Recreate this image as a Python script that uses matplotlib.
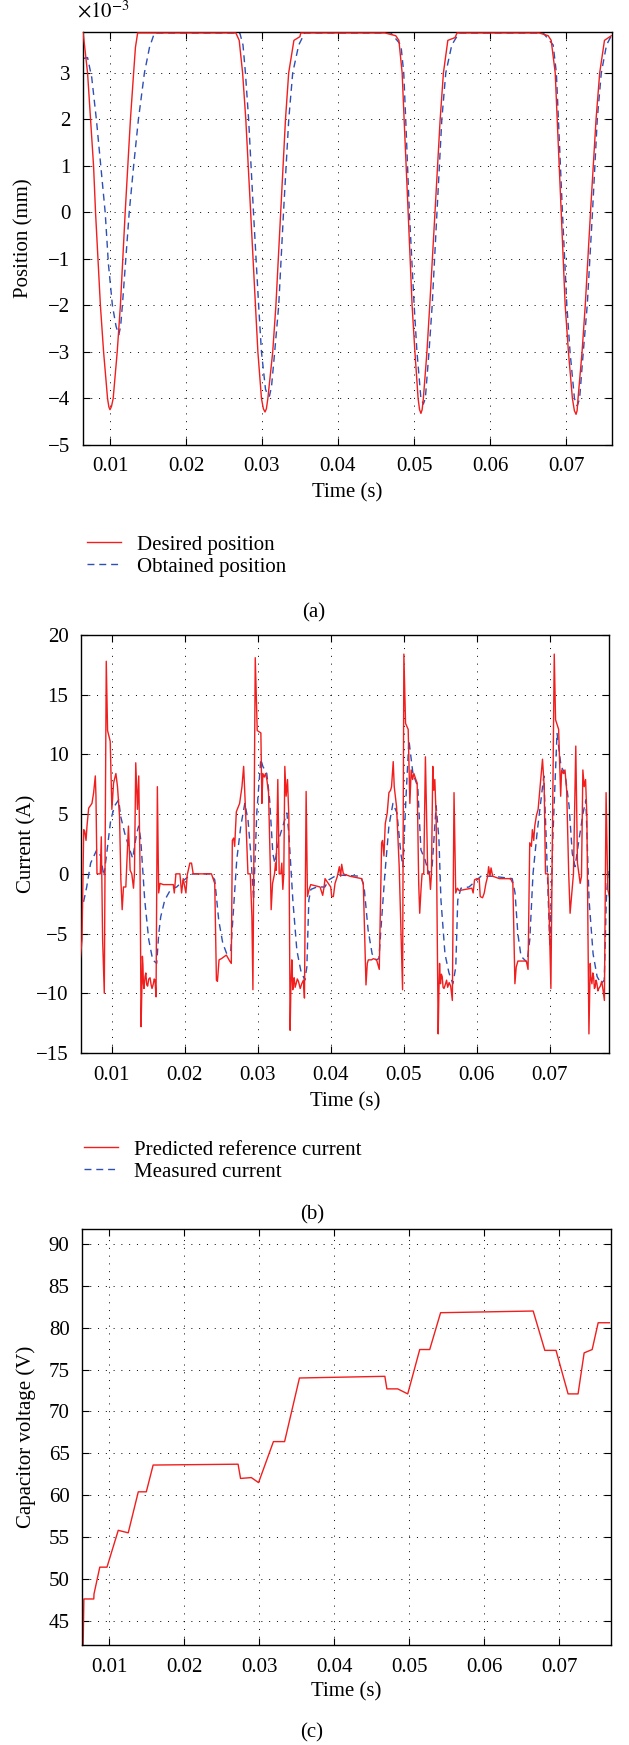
import matplotlib
matplotlib.use("Agg")
import matplotlib.pyplot as plt

plt.rcParams['font.family'] = ['Liberation Serif', 'DejaVu Serif']
plt.rcParams['mathtext.fontset'] = 'stix'

# ---------------- data ----------------
# (a) position, in units of 1e-3 mm
des_t = [0.00647, 0.00705, 0.00784, 0.00810, 0.00874, 0.00916, 0.00968, 0.00985, 0.01000, 0.01020,
         0.01042, 0.01095, 0.01137, 0.01200, 0.01269, 0.01311, 0.01335, 0.01364, 0.02656, 0.02700,
         0.02745, 0.02787, 0.02851, 0.02914, 0.02946, 0.02993, 0.03018, 0.03040, 0.03058, 0.03077,
         0.03141, 0.03183, 0.03246, 0.03309, 0.03351, 0.03420, 0.03499, 0.03510, 0.04617, 0.04760,
         0.04801, 0.04844, 0.04870, 0.04923, 0.04975, 0.05012, 0.05054, 0.05073, 0.05091, 0.05107,
         0.05123, 0.05170, 0.05207, 0.05276, 0.05344, 0.05387, 0.05445, 0.05540, 0.05566, 0.06647,
         0.06765, 0.06805, 0.06858, 0.06884, 0.06937, 0.06989, 0.07032, 0.07084, 0.07110, 0.07132,
         0.07146, 0.07158, 0.07211, 0.07253, 0.07322, 0.07395, 0.07443, 0.07506, 0.07596]
des_y = [3.86, 3.0, 1.0, 0.0, -2.0, -3.0, -4.0, -4.18, -4.24, -4.17,
         -4.0, -3.0, -2.0, 0.0, 2.0, 3.0, 3.55, 3.86, 3.86, 3.7,
         3.0, 2.0, 0.0, -2.0, -3.0, -4.0, -4.22, -4.29, -4.22, -4.0,
         -3.0, -2.0, 0.0, 2.0, 3.0, 3.7, 3.78, 3.86, 3.86, 3.8,
         3.7, 3.0, 2.0, 0.0, -2.0, -3.0, -4.0, -4.24, -4.32, -4.24,
         -4.0, -3.0, -2.0, 0.0, 2.0, 3.0, 3.7, 3.76, 3.86, 3.86,
         3.8, 3.7, 3.0, 2.0, 0.0, -2.0, -3.0, -4.0, -4.26, -4.34,
         -4.26, -4.0, -3.0, -2.0, 0.0, 2.0, 3.0, 3.7, 3.8]

obt_t = [0.00647, 0.00705, 0.00760, 0.00821, 0.00937, 0.00979, 0.01032, 0.01080, 0.01116, 0.01140,
         0.01163, 0.01253, 0.01311, 0.01374, 0.01453, 0.01520, 0.01585, 0.02708, 0.02750, 0.02782,
         0.02824, 0.02888, 0.02956, 0.02993, 0.03046, 0.03075, 0.03098, 0.03125, 0.03167, 0.03220,
         0.03283, 0.03352, 0.03404, 0.03483, 0.03562, 0.04696, 0.04828, 0.04865, 0.04891, 0.04939,
         0.05002, 0.05039, 0.05091, 0.05123, 0.05149, 0.05197, 0.05239, 0.05302, 0.05366, 0.05418,
         0.05497, 0.05592, 0.06699, 0.06831, 0.06873, 0.06900, 0.06953, 0.07011, 0.07053, 0.07111,
         0.07148, 0.07179, 0.07227, 0.07279, 0.07348, 0.07411, 0.07464, 0.07533, 0.07596]
obt_y = [3.31, 3.33, 2.9, 2.0, 0.0, -1.1, -2.0, -2.45, -2.63, -2.45,
         -2.0, 0.0, 1.0, 2.0, 3.0, 3.55, 3.86, 3.86, 3.6, 3.0,
         2.0, 0.0, -2.0, -3.0, -3.8, -3.93, -3.95, -3.75, -3.0, -2.0,
         0.0, 2.0, 3.0, 3.6, 3.86, 3.86, 3.6, 3.0, 2.0, 0.0,
         -2.0, -3.0, -4.0, -4.12, -4.0, -3.0, -2.0, 0.0, 2.0, 3.0,
         3.6, 3.86, 3.86, 3.6, 3.0, 2.0, 0.0, -2.0, -3.0, -4.0,
         -4.16, -4.0, -3.0, -2.0, 0.0, 2.0, 3.0, 3.6, 3.8]

# (b) current (A)
ref_t = [0.00568, 0.00591, 0.00614, 0.00627, 0.00646, 0.00659, 0.00682, 0.00727, 0.00750, 0.00773,
         0.00782, 0.00796, 0.00841, 0.00855, 0.00873, 0.00896, 0.00923, 0.00941, 0.00977, 0.01000,
         0.01023, 0.01055, 0.01077, 0.01105, 0.01123, 0.01141, 0.01159, 0.01191, 0.01227, 0.01250,
         0.01273, 0.01296, 0.01309, 0.01327, 0.01350, 0.01368, 0.01386, 0.01400, 0.01410, 0.01418,
         0.01425, 0.01432, 0.01440, 0.01455, 0.01465, 0.01478, 0.01490, 0.01505, 0.01523, 0.01538,
         0.01550, 0.01568, 0.01580, 0.01591, 0.01605, 0.01623, 0.01641, 0.01659, 0.01705, 0.01841,
         0.01855, 0.01877, 0.01932, 0.01955, 0.01977, 0.02014, 0.02032, 0.02068, 0.02091, 0.02114,
         0.02159, 0.02364, 0.02386, 0.02409, 0.02432, 0.02446, 0.02468, 0.02500, 0.02568, 0.02614,
         0.02636, 0.02650, 0.02668, 0.02682, 0.02705, 0.02750, 0.02782, 0.02805, 0.02827, 0.02864,
         0.02896, 0.02918, 0.02932, 0.02964, 0.02991, 0.03041, 0.03055, 0.03068, 0.03087, 0.03105,
         0.03123, 0.03146, 0.03169, 0.03182, 0.03201, 0.03228, 0.03242, 0.03251, 0.03260, 0.03273,
         0.03292, 0.03314, 0.03328, 0.03342, 0.03355, 0.03369, 0.03387, 0.03406, 0.03424, 0.03442,
         0.03452, 0.03465, 0.03472, 0.03478, 0.03488, 0.03497, 0.03510, 0.03524, 0.03540, 0.03556,
         0.03580, 0.03601, 0.03624, 0.03638, 0.03661, 0.03679, 0.03702, 0.03724, 0.03852, 0.03888,
         0.03907, 0.03920, 0.03998, 0.04011, 0.04034, 0.04057, 0.04089, 0.04116, 0.04134, 0.04148,
         0.04171, 0.04262, 0.04421, 0.04444, 0.04481, 0.04499, 0.04513, 0.04558, 0.04581, 0.04626,
         0.04663, 0.04695, 0.04708, 0.04727, 0.04745, 0.04772, 0.04795, 0.04818, 0.04831, 0.04854,
         0.04868, 0.04900, 0.04936, 0.04968, 0.04982, 0.05000, 0.05023, 0.05059, 0.05082, 0.05100,
         0.05119, 0.05137, 0.05164, 0.05182, 0.05203, 0.05217, 0.05235, 0.05249, 0.05272, 0.05295,
         0.05309, 0.05327, 0.05350, 0.05364, 0.05378, 0.05396, 0.05410, 0.05424, 0.05442, 0.05470,
         0.05480, 0.05489, 0.05495, 0.05502, 0.05513, 0.05525, 0.05537, 0.05550, 0.05571, 0.05585,
         0.05600, 0.05620, 0.05641, 0.05664, 0.05687, 0.05710, 0.05733, 0.05756, 0.05931, 0.05949,
         0.05968, 0.06000, 0.06032, 0.06046, 0.06078, 0.06101, 0.06124, 0.06148, 0.06161, 0.06180,
         0.06194, 0.06217, 0.06309, 0.06447, 0.06470, 0.06493, 0.06521, 0.06539, 0.06562, 0.06631,
         0.06677, 0.06701, 0.06724, 0.06747, 0.06760, 0.06779, 0.06793, 0.06816, 0.06839, 0.06871,
         0.06899, 0.06922, 0.06940, 0.06972, 0.06991, 0.07014, 0.07060, 0.07078, 0.07120, 0.07148,
         0.07161, 0.07184, 0.07207, 0.07230, 0.07258, 0.07277, 0.07300, 0.07323, 0.07355, 0.07378,
         0.07401, 0.07415, 0.07433, 0.07452, 0.07470, 0.07489, 0.07507, 0.07535, 0.07545, 0.07553,
         0.07560, 0.07576, 0.07588, 0.07599, 0.07610, 0.07620, 0.07633, 0.07645, 0.07658, 0.07670,
         0.07691, 0.07710, 0.07728, 0.07747, 0.07770, 0.07793, 0.07816]
ref_y = [-7.1, -5.5, 3.7, 3.6, 2.8, 4.0, 5.5, 5.9, 6.8, 8.2,
         6.5, 0.0, 0.0, 3.1, -5.5, -10.0, 17.8, 12.0, 11.1, 5.4,
         7.6, 8.4, 7.3, 4.8, -0.5, -3.0, -1.1, -1.1, 4.0, 0.3,
         0.0, -1.2, 0.0, 9.3, 5.4, 8.2, 0.3, -12.8, -9.8, -6.9,
         -7.6, -9.2, -9.6, -8.6, -8.3, -9.3, -9.4, -8.8, -8.7, -9.3,
         -9.6, -9.2, -8.8, -8.9, -10.3, 7.3, -1.6, -0.8, -0.9, -0.9,
         -1.6, 0.0, 0.0, -1.6, -0.4, -1.6, -0.1, 0.9, 0.9, 0.0,
         0.0, 0.0, -0.4, -0.8, -8.9, -9.0, -7.2, -7.1, -6.8, -7.3,
         -7.5, 2.8, 3.0, 2.3, 5.2, 5.9, 7.3, 9.0, 5.9, 0.0,
         0.0, -3.6, -9.7, 18.1, 12.0, 11.8, 5.9, 8.4, 8.1, 8.4,
         7.9, 6.8, 0.9, -3.0, -0.8, 0.0, 0.9, 0.3, 3.4, 7.9,
         0.0, 0.0, 0.9, -1.3, 0.0, 9.0, 6.5, 7.9, 4.8, -13.1,
         -9.5, -7.2, -8.4, -9.7, -9.0, -8.7, -9.5, -9.2, -8.8, -9.0,
         -9.6, -9.2, -8.9, -10.4, 6.9, -1.9, -1.3, -0.9, -1.1, -1.8,
         -1.1, -0.4, -1.1, -1.9, -1.9, -0.8, -0.2, 0.6, -0.2, 0.8,
         0.0, -0.2, -0.4, -0.8, -9.3, -7.5, -7.2, -7.2, -7.1, -7.2,
         -8.0, 2.6, 2.8, 1.5, 4.2, 5.1, 6.8, 7.0, 7.3, 9.4,
         7.3, 5.6, 0.6, -6.4, -9.7, 18.4, 12.6, 12.1, 5.9, 8.7,
         7.9, 8.4, 7.9, 7.6, -0.8, -3.3, -1.3, 0.0, 0.0, 9.8,
         5.4, 0.0, 0.0, -1.3, 0.0, 9.0, 7.0, 7.9, 4.8, -13.4,
         -9.8, -7.5, -8.6, -9.2, -8.4, -8.6, -9.5, -9.6, -9.2, -8.9,
         -9.5, -9.1, -9.4, -10.6, 6.8, -1.6, -1.2, -1.4, -1.2, -1.6,
         -0.5, -0.4, -0.4, -1.9, -2.0, -1.6, -0.8, -0.2, 0.6, -0.2,
         0.5, -0.2, -0.4, -0.4, -0.5, -0.8, -9.2, -7.8, -7.3, -7.3,
         -7.3, -8.0, 2.6, 2.3, 3.7, 2.8, 4.0, 4.9, 5.4, 7.6,
         9.6, 7.3, 0.0, 0.0, -3.6, -9.6, 18.4, 12.9, 12.1, 6.5,
         8.7, 8.4, 8.7, 7.0, 0.0, -3.3, -1.6, 0.0, 10.7, 0.9,
         -0.2, -0.8, -0.2, 8.7, 7.3, 7.9, 4.8, -13.4, -10.0, -7.5,
         -8.6, -9.2, -8.3, -8.6, -9.6, -9.5, -8.9, -9.2, -9.8, -9.6,
         -9.4, -9.0, -9.7, -10.6, 6.8, -1.3, -1.9]

meas_t = [0.00572, 0.00600, 0.00655, 0.00709, 0.00792, 0.00846, 0.00890, 0.00929, 0.00984, 0.01038,
          0.01093, 0.01121, 0.01176, 0.01230, 0.01285, 0.01340, 0.01367, 0.01395, 0.01450, 0.01505,
          0.01559, 0.01614, 0.01642, 0.01669, 0.01724, 0.01806, 0.01888, 0.01971, 0.02053, 0.02108,
          0.02355, 0.02409, 0.02464, 0.02519, 0.02574, 0.02629, 0.02656, 0.02711, 0.02766, 0.02821,
          0.02865, 0.02903, 0.02941, 0.02985, 0.03040, 0.03068, 0.03122, 0.03161, 0.03205, 0.03232,
          0.03287, 0.03342, 0.03397, 0.03424, 0.03479, 0.03534, 0.03588, 0.03643, 0.03671, 0.03698,
          0.03726, 0.03808, 0.03918, 0.03972, 0.04055, 0.04109, 0.04411, 0.04455, 0.04510, 0.04565,
          0.04619, 0.04658, 0.04685, 0.04740, 0.04795, 0.04850, 0.04905, 0.04959, 0.04987, 0.05025,
          0.05069, 0.05124, 0.05190, 0.05234, 0.05289, 0.05343, 0.05387, 0.05442, 0.05480, 0.05508,
          0.05563, 0.05618, 0.05672, 0.05711, 0.05738, 0.05782, 0.05892, 0.06001, 0.06056, 0.06221,
          0.06484, 0.06523, 0.06561, 0.06605, 0.06687, 0.06725, 0.06769, 0.06824, 0.06879, 0.06917,
          0.06950, 0.07000, 0.07043, 0.07098, 0.07153, 0.07208, 0.07263, 0.07307, 0.07345, 0.07400,
          0.07455, 0.07493, 0.07537, 0.07592, 0.07647, 0.07702, 0.07745, 0.07773, 0.07800]
meas_y = [-3.3, -2.7, -1.1, 0.9, 2.0, 1.5, -0.2, 1.7, 4.5, 5.7,
          6.2, 4.8, 3.4, 2.3, 1.3, 3.4, 4.0, 2.9, -2.2, -5.5,
          -7.2, -7.5, -5.0, -3.6, -2.2, -1.3, -1.1, -0.6, -0.2, 0.0,
          0.0, -0.5, -3.9, -5.8, -6.7, -6.4, -3.9, 1.2, 4.0, 5.9,
          4.5, 1.7, -2.2, 5.1, 9.6, 9.0, 8.4, 6.2, 1.7, 0.9,
          2.9, 4.0, 5.1, 3.4, -2.2, -6.4, -8.1, -8.9, -7.8, -2.2,
          -1.3, -1.1, -1.1, -0.5, -0.2, -0.1, -0.2, -1.1, -4.7, -6.7,
          -7.2, -7.1, -4.7, 0.0, 4.0, 5.9, 5.1, 1.7, 0.6, 5.9,
          11.2, 8.4, 7.3, 2.0, 1.2, 0.0, 0.6, 5.7, 2.9, -2.2,
          -6.7, -8.3, -9.2, -7.8, -2.2, -1.2, -1.1, -0.5, -0.2, -0.2,
          -0.4, -1.6, -5.0, -6.9, -7.4, -5.5, 0.0, 3.4, 6.2, 8.2,
          2.9, -6.1, 3.4, 11.8, 9.0, 8.4, 5.7, 1.7, 0.6, 2.9,
          5.1, 6.2, -2.2, -6.7, -8.6, -9.2, -8.9, -2.2, 0.6]

# (c) capacitor voltage (V)
volt_t = [0.00655, 0.00665, 0.00797, 0.00800, 0.00877, 0.00973, 0.01123, 0.01256, 0.01390, 0.01497,
          0.01588, 0.02720, 0.02753, 0.02897, 0.02993, 0.03191, 0.03340, 0.03538, 0.04676, 0.04703,
          0.04847, 0.04981, 0.05141, 0.05274, 0.05419, 0.06653, 0.06808, 0.06957, 0.07118, 0.07251,
          0.07332, 0.07439, 0.07519, 0.07668]
volt_y = [42.0, 47.6, 47.6, 48.2, 51.4, 51.4, 55.8, 55.5, 60.4, 60.4,
          63.6, 63.7, 62.0, 62.1, 61.5, 66.4, 66.4, 74.0, 74.2, 72.7,
          72.7, 72.1, 77.4, 77.4, 81.8, 82.0, 77.3, 77.3, 72.1, 72.1,
          77.0, 77.4, 80.6, 80.6]

x_ticks = [0.01, 0.02, 0.03, 0.04, 0.05, 0.06, 0.07]
x_labels = ['0.01', '0.02', '0.03', '0.04', '0.05', '0.06', '0.07']
ya_ticks = [-5, -4, -3, -2, -1, 0, 1, 2, 3]
yb_ticks = [-15, -10, -5, 0, 5, 10, 15, 20]
yc_ticks = [45, 50, 55, 60, 65, 70, 75, 80, 85, 90]

# ---------------- layout ----------------
W, H = 629, 1745
fig = plt.figure(figsize=(W / 100, H / 100), dpi=100)
FS = 15
RED = '#f21d1d'
BLUE = '#2e4fb4'


def add_ax(left, right, top, bottom):
    return fig.add_axes([left / W, 1 - bottom / H, (right - left) / W, (bottom - top) / H])


def style(ax, yticks, xlim, ylim):
    ax.set_xlim(*xlim)
    ax.set_ylim(*ylim)
    ax.set_xticks(x_ticks)
    ax.set_xticklabels(x_labels)
    ax.set_yticks(yticks)
    ax.tick_params(direction='in', length=5, width=0.8, top=True, right=True,
                   labelsize=FS, pad=9)
    ax.grid(True, color='black', linestyle=(0, (1, 7)), linewidth=0.7)
    for s in ax.spines.values():
        s.set_linewidth(1.0)


def ftext(x, y, s, **kw):
    fig.text(x / W, 1 - y / H, s, fontsize=FS, **kw)


# (a)
axa = add_ax(83, 612, 32, 445)
la1, = axa.plot(des_t, des_y, color=RED, lw=1.0, zorder=3)
la2, = axa.plot(obt_t, obt_y, color=BLUE, lw=1.0, dashes=(5, 3.5), zorder=2)
style(axa, ya_ticks, (0.00645, 0.07605), (-5, 3.88))
ftext(77, 12, r'$\times10^{-3}$', ha='left', va='center')
ftext(24, 238, 'Position (mm)', rotation=90, ha='center', va='center')
ftext(347, 493, 'Time (s)', ha='center', va='center')
fig.legend([la1, la2], ['Desired position', 'Obtained position'], loc='upper left',
           bbox_to_anchor=(87 / W, 1 - 535 / H), frameon=False, fontsize=FS,
           handlelength=1.65, handletextpad=0.75, labelspacing=0.12,
           borderpad=0, borderaxespad=0)
ftext(314, 613, '(a)', ha='center', va='center')

# (b)
axb = add_ax(81, 609, 635, 1053)
lb1, = axb.plot(ref_t, ref_y, color=RED, lw=1.0, zorder=3)
lb2, = axb.plot(meas_t, meas_y, color=BLUE, lw=1.0, dashes=(5, 3.5), zorder=2)
style(axb, yb_ticks, (0.00577, 0.0781), (-15, 20))
ftext(27, 844, 'Current (A)', rotation=90, ha='center', va='center')
ftext(345, 1102, 'Time (s)', ha='center', va='center')
fig.legend([lb1, lb2], ['Predicted reference current', 'Measured current'], loc='upper left',
           bbox_to_anchor=(84 / W, 1 - 1140 / H), frameon=False, fontsize=FS,
           handlelength=1.65, handletextpad=0.75, labelspacing=0.12,
           borderpad=0, borderaxespad=0)
ftext(312, 1215, '(b)', ha='center', va='center')

# (c)
axc = add_ax(82, 611, 1229, 1645)
axc.plot(volt_t, volt_y, color=RED, lw=1.0)
style(axc, yc_ticks, (0.0064, 0.0769), (42.1, 91.8))
ftext(26, 1437, 'Capacitor voltage (V)', rotation=90, ha='center', va='center')
ftext(346, 1692, 'Time (s)', ha='center', va='center')
ftext(312, 1733, '(c)', ha='center', va='center')

fig.savefig('out.png', dpi=100)
